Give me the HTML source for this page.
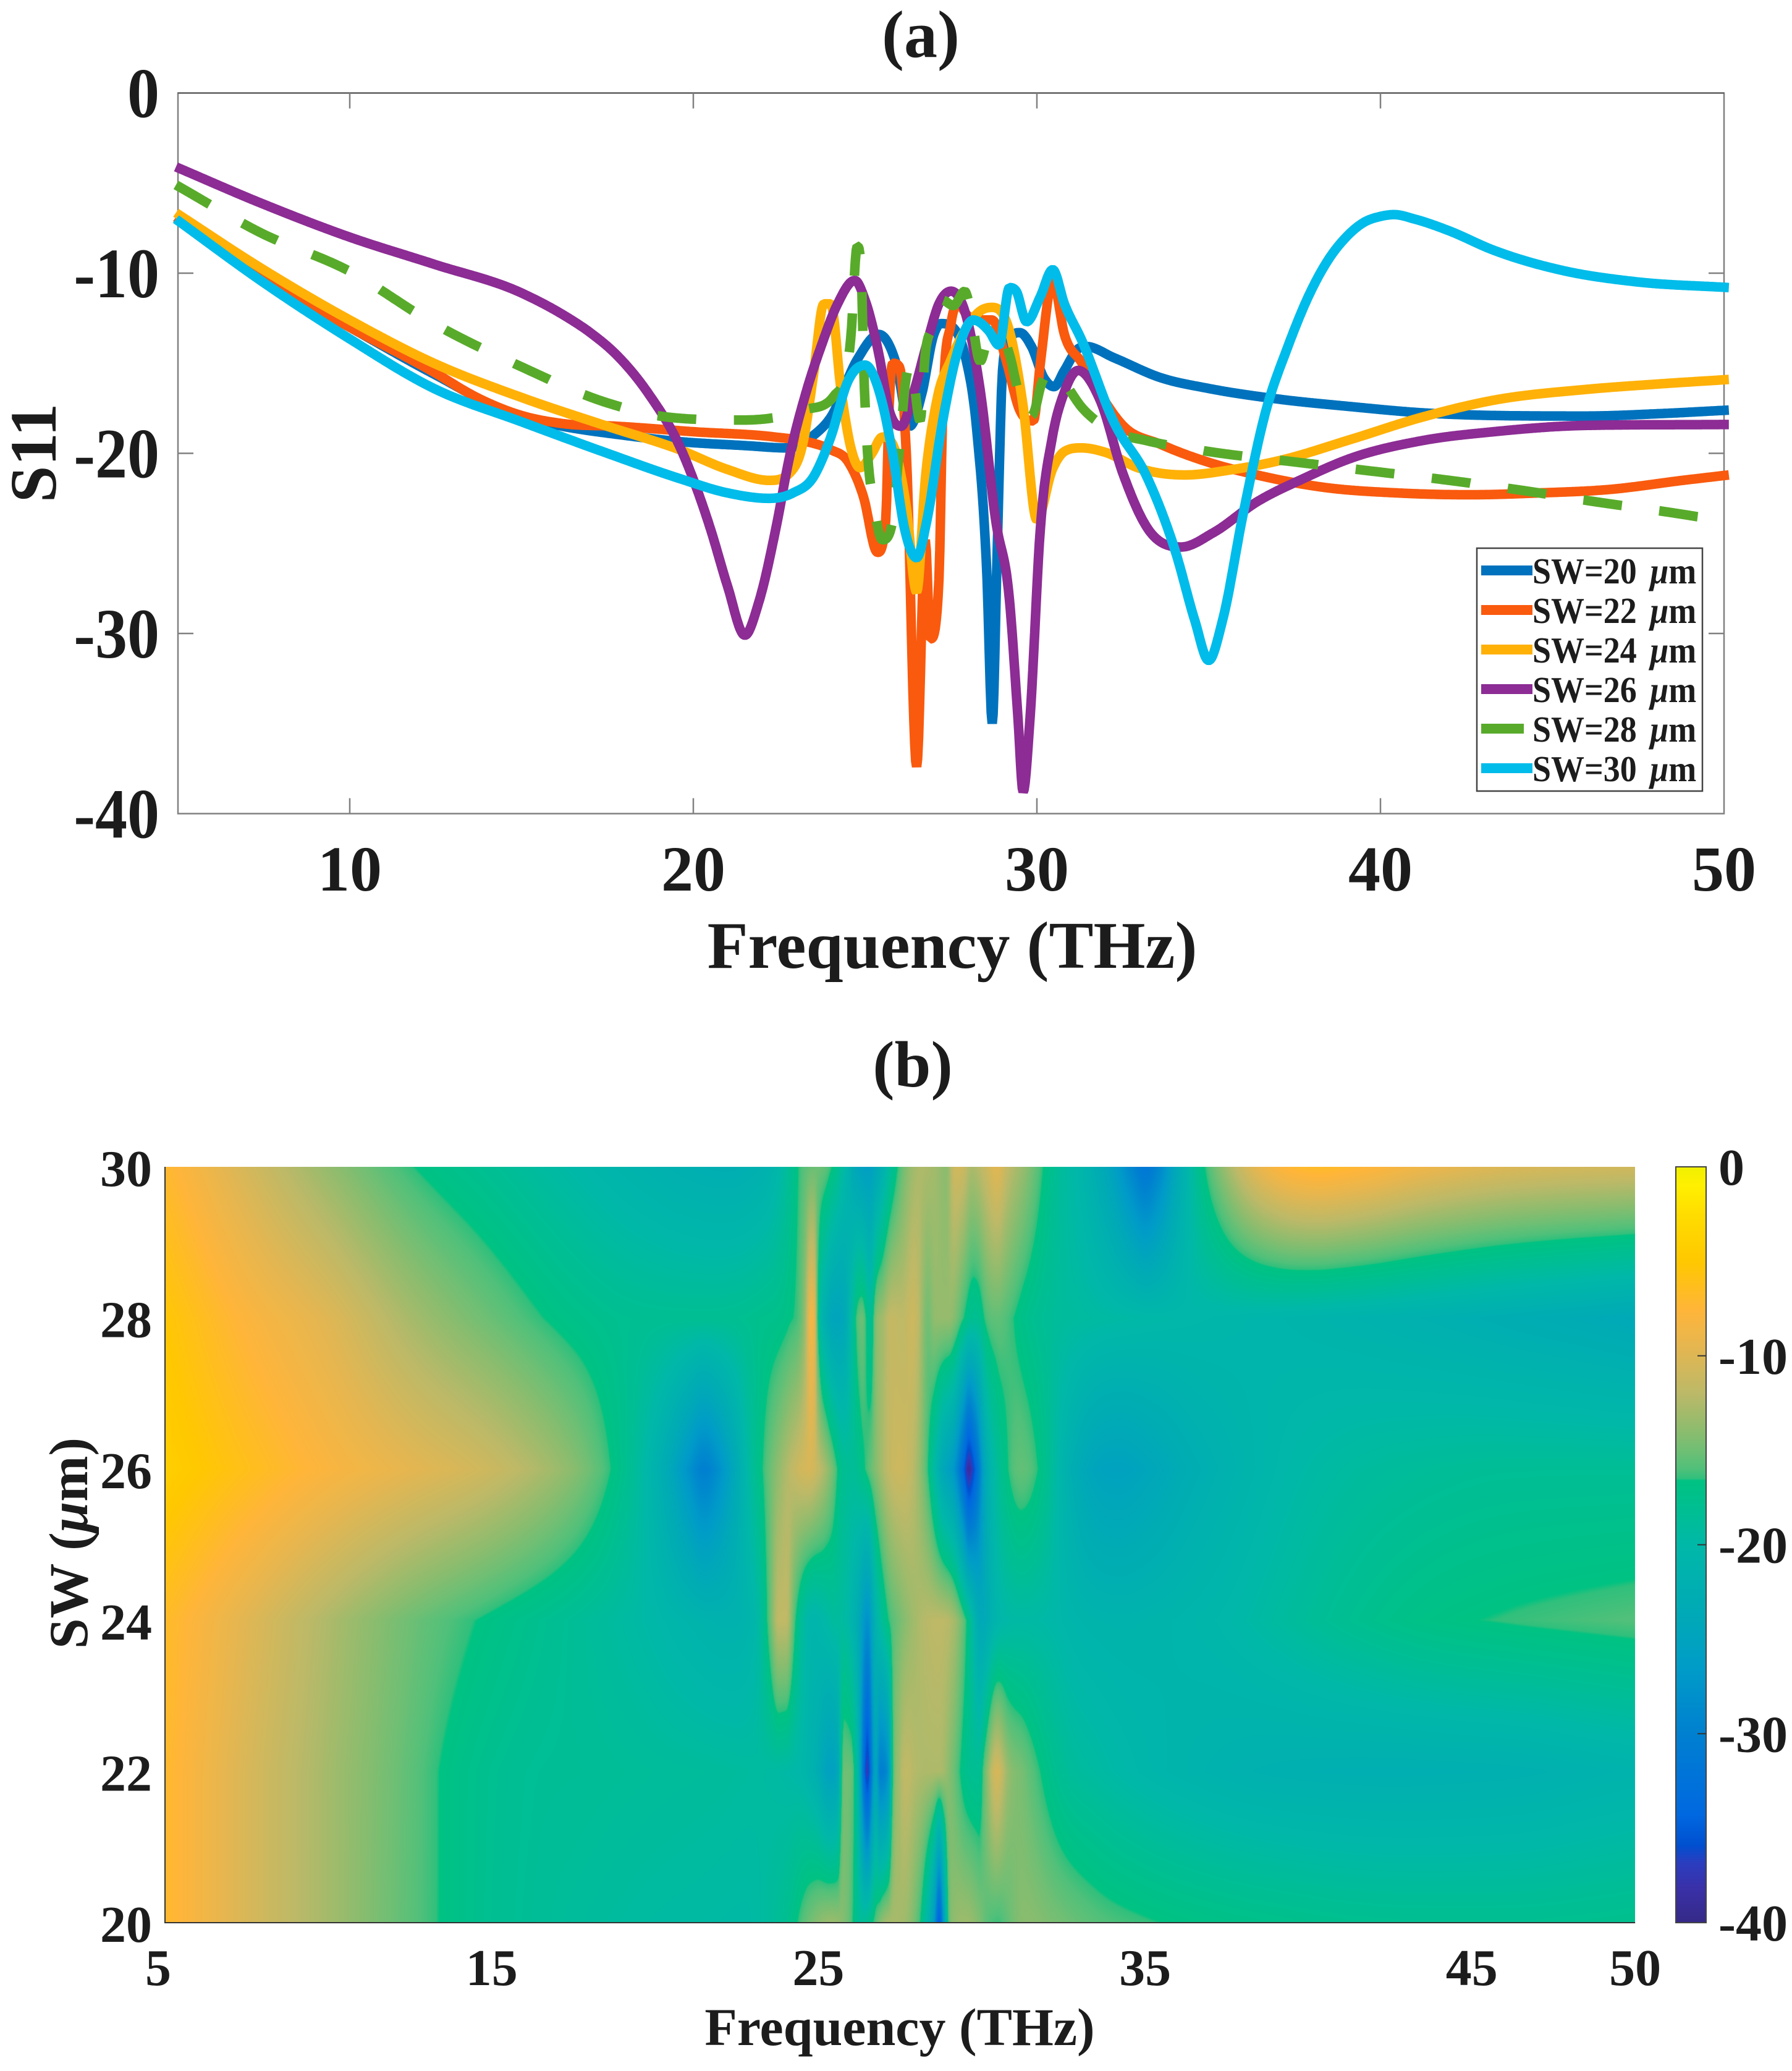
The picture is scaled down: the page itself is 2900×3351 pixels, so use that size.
<!DOCTYPE html>
<html>
<head>
<meta charset="utf-8">
<title>S11 vs Frequency</title>
<style>
html,body{margin:0;padding:0;background:#fff;}
#stage{position:relative;width:2900px;height:3351px;overflow:hidden;background:#fff;}
canvas,svg{position:absolute;left:0;top:0;}
text{font-family:"Liberation Serif","DejaVu Serif",serif;font-weight:bold;fill:#1c1c1c;}
</style>
</head>
<body>
<div id="stage">
  <canvas id="heat" width="2379" height="1223" style="left:267px;top:1888px"></canvas>
  <canvas id="cbar" width="49" height="1223" style="left:2712px;top:1888px"></canvas>
  <svg id="plot" width="2900" height="3351" viewBox="0 0 2900 3351" xmlns="http://www.w3.org/2000/svg">
    <text x="1490" y="92" font-size="108" text-anchor="middle">(a)</text>
    <text x="1477" y="1758" font-size="106" text-anchor="middle">(b)</text>
    <text transform="translate(90,733) rotate(-90)" font-size="107" text-anchor="middle">S11</text>
    <text x="1541" y="1566" font-size="108" text-anchor="middle">Frequency (THz)</text>
    <text x="1456" y="3309" font-size="86" text-anchor="middle">Frequency (THz)</text>
    <text transform="translate(141,2497) rotate(-90)" font-size="89" text-anchor="middle">SW (<tspan font-style="italic">μ</tspan>m)</text>
    <g id="axesA"></g>
    <g id="linesA"></g>
    <g id="axesB"></g>
    <g id="legend"></g>
  </svg>
</div>
<script>
// ---------- Data ----------
const freq20=[4.94,7.4,10,12.45,15,16.2,18,19.6,21.5,22.75,23.5,24,24.77,25.4,25.9,26.3,26.65,27,27.2,27.6,27.9,28.25,28.55,28.7,28.85,29,29.2,29.5,29.85,30.2,30.5,30.8,31.2,31.43,32.25,33.6,35,37.07,39.1,41.2,43.3,46,48.1,50.14];
const s11_20=[-6.9,-10.2,-13,-15.6,-18,-18.5,-19,-19.35,-19.57,-19.7,-19,-18,-14.8,-13.4,-15,-18.5,-16.7,-13.4,-12.8,-13.1,-14.5,-18.7,-27,-35,-25,-15.4,-13.7,-13.3,-14.1,-15.8,-16.3,-15.4,-14.2,-14.07,-14.7,-15.8,-16.4,-17,-17.4,-17.75,-17.9,-17.93,-17.8,-17.6];

const freq22=[4.94,7.4,10,12.45,13.7,15,16.2,17.8,20,22.4,23.3,24,24.5,24.95,25.36,25.6,25.7,25.8,26,26.2,26.5,26.75,26.9,27.15,27.25,27.5,27.7,27.98,28.35,28.7,29.1,29.5,29.9,30.1,30.46,30.8,31.3,31.84,32.5,33.6,35,36.4,38.4,40.5,42.6,44.6,46.7,48.8,50.14];
const s11_22=[-6.9,-10.2,-13,-15.5,-16.9,-17.9,-18.35,-18.5,-18.8,-19.1,-19.35,-19.8,-20.45,-22.4,-25.5,-23.7,-17.4,-15,-15.2,-20,-37.4,-24.8,-30.3,-27,-18.3,-12.8,-11.7,-12.35,-12.6,-12.6,-14.8,-17.6,-18.2,-15,-10.4,-13.4,-14.95,-16.7,-18.45,-19.5,-20.5,-21.2,-21.9,-22.2,-22.3,-22.2,-22,-21.5,-21.2];

const freq24=[4.94,7.4,10,12.45,15,17.5,19.6,21,22.2,22.8,23.2,23.5,23.8,24,24.3,24.6,24.85,25.2,25.5,25.9,26.2,26.5,26.75,27.1,27.5,27.9,28.35,28.7,29.2,29.6,30,30.45,30.8,31.3,32,32.94,34.3,35.7,37.07,39.1,41.2,43.3,46,48.1,50.14];
const s11_24=[-6.65,-9.7,-12.6,-15,-16.9,-18.5,-19.8,-20.9,-21.5,-21.1,-19.35,-15.6,-11.7,-11.7,-16.5,-19.8,-20.8,-20,-19.1,-20,-23,-27.7,-21.5,-16.95,-14.8,-13.2,-12.1,-11.9,-13.2,-17.4,-23.7,-20.9,-19.9,-19.7,-19.95,-20.8,-21.2,-20.9,-20.4,-19.25,-18,-17.05,-16.45,-16.15,-15.9];

const freq26=[4.94,7.4,10,12.45,15,16.2,17,17.8,18.7,19.6,20.5,21,21.5,21.9,22.4,22.8,23.3,23.75,24.2,24.7,25,25.4,25.7,26.05,26.4,26.8,27.15,27.5,27.9,28.35,28.8,29.2,29.45,29.6,29.8,30.1,30.45,30.8,31.2,31.84,32.5,33.2,34.2,35.14,36.4,37.76,39.1,41.2,43.3,46,50.14];
const s11_26=[-4.1,-6.1,-8,-9.5,-11.1,-12.3,-13.3,-14.6,-16.7,-19.6,-24.2,-27.4,-30.1,-28.3,-24.2,-20.2,-16.5,-13.9,-11.7,-10.4,-11.5,-14.5,-17.6,-18.5,-16.7,-13.9,-11.7,-11,-12.1,-16.5,-23.7,-28.1,-34.7,-38.8,-34.7,-24.2,-19.1,-16.6,-15.4,-17.05,-21.1,-24.1,-25.2,-24.4,-22.7,-21.4,-20.3,-19.3,-18.8,-18.45,-18.4];

const freq28=[4.94,7.4,10,12.45,15,17.5,19.3,21.5,23.2,24.1,24.58,24.77,24.9,24.95,25.04,25.27,25.5,25.78,26,26.2,26.33,26.6,26.75,26.97,27.25,27.57,27.9,28.03,28.35,28.58,29,29.2,29.45,29.77,29.9,30.14,30.5,30.7,31.33,32.25,33.2,35,37.6,39.8,42,44.1,46.3,48.5,50.14];
const s11_28=[-5.1,-7.75,-9.9,-12.8,-15.2,-17.2,-18,-18.15,-17.6,-16.8,-13.66,-8.5,-10.5,-14.65,-18.9,-22.96,-24.8,-23.95,-19.7,-15.75,-15.1,-18.2,-14.5,-13,-11.5,-11.8,-11,-11.7,-14.9,-13.7,-13.55,-14.5,-16.5,-18,-17.8,-16.1,-15.5,-15.85,-17.5,-18.8,-19.3,-19.9,-20.5,-21,-21.5,-22.05,-22.7,-23.3,-23.8];

const freq30=[4.94,7.4,10,12.45,15,17.5,19.6,21,22.2,22.9,23.5,24,24.5,25,25.4,25.8,26.15,26.5,26.8,27.25,27.7,28.15,28.6,28.9,29.2,29.4,29.7,30.1,30.46,30.8,31.3,32.25,33.2,34.04,34.6,35,35.4,36,36.65,37.3,38,38.5,39,39.5,40,40.4,41,42,43.26,45.3,47.4,50.14];
const s11_30=[-7,-10.4,-13.65,-16.4,-18.25,-20,-21.4,-22.2,-22.5,-22.2,-21.3,-19.1,-16,-15.1,-16.5,-20,-24.2,-25.8,-23.7,-18.3,-14.3,-12.6,-13.2,-14,-10.8,-11,-12.7,-11.3,-9.8,-11.7,-13.7,-18.3,-21.3,-25.5,-29.3,-31.5,-29.3,-23.4,-17.75,-14.1,-10.9,-9.2,-8,-7.2,-6.85,-6.75,-7,-7.65,-8.7,-9.85,-10.47,-10.8];

const swValues=[20,22,24,26,28,30];
const seriesFreqs=[freq20,freq22,freq24,freq26,freq28,freq30];
const seriesS11=[s11_20,s11_22,s11_24,s11_26,s11_28,s11_30];
const seriesColors=["#0072bd","#f95a0e","#ffb108","#8c2c94","#58ab2a","#00bcea"];

const aXTicks=[10,20,30,40,50];
const aYTicks=[0,-10,-20,-30,-40];
const bXTicks=[5,15,25,35,45,50];
const bYTicks=[20,22,24,26,28,30];
const cbarTicks=[0,-10,-20,-30,-40];

const colormapValues=[-40,-38.2,-36.8,-35.9,-34.3,-30,-26.5,-24,-20,-19,-16.6,-16.5,-16,-15,-14,-12,-9.5,-7.6,-5,-2.5,-1,0];
const colormapColors=["#352a87","#3a30a8","#2a3ec0","#0050d0","#0068e0","#0080d0","#009cc8","#00a8b8","#00b8a8","#00bc9c","#00c282","#30c07c","#50c07a","#70bf74","#8cbc6e","#bcb968","#e6b650","#ffb53a","#ffc800","#ffdd00","#fff000","#f0f000"];

// ---------- Axis functions ----------
function xA(f){return 288+(f-5)*55.6;}
function yA(v){return 150.5-v*29.15;}
function xB(f){return 267+(f-5)*52.87;}
function yB(sw){return 3111-(sw-20)*122.3;}
function yC(v){return 1888-v*30.575;}

const SVGNS="http://www.w3.org/2000/svg";
function mk(tag,parent,attrs){
  const el=document.createElementNS(SVGNS,tag);
  for(const k in attrs){el.setAttribute(k,attrs[k]);}
  parent.appendChild(el);
  return el;
}

// Smooth, shape-preserving cubic through the read points
function buildSpline(xs,ys){
  const n=xs.length,d=[],m=new Array(n);
  for(let i=0;i<n-1;i++){d.push((ys[i+1]-ys[i])/(xs[i+1]-xs[i]));}
  m[0]=d[0];m[n-1]=d[n-2];
  for(let i=1;i<n-1;i++){
    if(d[i-1]*d[i]<=0){m[i]=0;}
    else{
      const h0=xs[i]-xs[i-1],h1=xs[i+1]-xs[i];
      const avg=(h1*d[i-1]+h0*d[i])/(h0+h1);
      const lim=3*Math.min(Math.abs(d[i-1]),Math.abs(d[i]));
      m[i]=Math.sign(avg)*Math.min(Math.abs(avg),lim);
    }
  }
  return function(x){
    if(x<=xs[0])return ys[0];
    if(x>=xs[n-1])return ys[n-1];
    let lo=0,hi=n-1;
    while(hi-lo>1){const mid=(lo+hi)>>1;if(xs[mid]<=x)lo=mid;else hi=mid;}
    const h=xs[hi]-xs[lo],t=(x-xs[lo])/h,t2=t*t,t3=t2*t;
    return (2*t3-3*t2+1)*ys[lo]+(t3-2*t2+t)*h*m[lo]+(-2*t3+3*t2)*ys[hi]+(t3-t2)*h*m[hi];
  };
}
const splines=seriesFreqs.map(function(fs,i){return buildSpline(fs,seriesS11[i]);});

// ---------- Colormap ----------
function hexToRgb(h){return [parseInt(h.substr(1,2),16),parseInt(h.substr(3,2),16),parseInt(h.substr(5,2),16)];}
const cmRgb=colormapColors.map(hexToRgb);
function colorOf(v){
  if(v<=colormapValues[0])return cmRgb[0];
  const n=colormapValues.length;
  if(v>=colormapValues[n-1])return cmRgb[n-1];
  let i=0;
  while(i<n-2&&v>colormapValues[i+1])i++;
  const t=(v-colormapValues[i])/(colormapValues[i+1]-colormapValues[i]);
  const a=cmRgb[i],b=cmRgb[i+1];
  return [a[0]+(b[0]-a[0])*t,a[1]+(b[1]-a[1])*t,a[2]+(b[2]-a[2])*t];
}

// ---------- Panel (a) axes ----------
const axesA=document.getElementById('axesA');
const frameA=mk('rect',axesA,{x:xA(5),y:yA(0),width:xA(50)-xA(5),height:yA(-40)-yA(0),fill:'none',stroke:'#808080','stroke-width':2.5});


const topEdge=mk('line',axesA,{x1:xA(5),x2:xA(50),y1:yA(0),y2:yA(0),stroke:'#555','stroke-width':2});



aXTicks.forEach(function(t){
  const g=mk('g',axesA,{});
  
  
  if(t<50){
    mk('line',g,{x1:xA(t),x2:xA(t),y1:yA(-40),y2:yA(-40)-25,stroke:'#808080','stroke-width':2.5});
    mk('line',g,{x1:xA(t),x2:xA(t),y1:yA(0),y2:yA(0)+25,stroke:'#808080','stroke-width':2.5});
  }
  const tx=mk('text',g,{x:xA(t),y:1441,'font-size':104,'text-anchor':'middle'});
  tx.textContent=String(t);
});
aYTicks.forEach(function(t){
  const g=mk('g',axesA,{});
  
  
  if(t>-40&&t<0){
    mk('line',g,{x1:xA(5),x2:xA(5)+25,y1:yA(t),y2:yA(t),stroke:'#808080','stroke-width':2.5});
    mk('line',g,{x1:xA(50),x2:xA(50)-25,y1:yA(t),y2:yA(t),stroke:'#808080','stroke-width':2.5});
  }
  const tx=mk('text',g,{transform:'translate(258,'+(yA(t)+39)+') scale(1,1.1)','font-size':104,'text-anchor':'end'});
  tx.textContent=String(t);
});

// ---------- Panel (a) lines ----------
const linesA=document.getElementById('linesA');
swValues.forEach(function(sw,i){
  const fs=seriesFreqs[i],sp=splines[i];
  let d='';
  for(let k=0;k<fs.length-1;k++){
    const steps=Math.max(1,Math.ceil((fs[k+1]-fs[k])/0.03));
    for(let s=0;s<steps;s++){
      const f=fs[k]+(fs[k+1]-fs[k])*s/steps;
      d+=(d?'L':'M')+xA(f).toFixed(1)+' '+yA(sp(f)).toFixed(1);
    }
  }
  d+='L'+xA(fs[fs.length-1]).toFixed(1)+' '+yA(seriesS11[i][fs.length-1]).toFixed(1);
  const attrs={d:d,fill:'none',stroke:seriesColors[i],'stroke-width':15.5,'stroke-linejoin':'bevel','stroke-linecap':'butt'};
  if(sw===28){attrs['stroke-dasharray']='63 61';}
  const p=mk('path',linesA,attrs);
  
  
});

// ---------- Legend ----------
const legend=document.getElementById('legend');
const lbox=mk('rect',legend,{x:2390,y:887,width:365,height:393,fill:'#fff',stroke:'#444','stroke-width':2.5});


swValues.forEach(function(sw,i){
  const g=mk('g',legend,{});
  
  
  const yy=923+i*64;
  mk('line',g,{x1:2397,x2:sw===28?2466:2480,y1:yy,y2:yy,stroke:seriesColors[i],'stroke-width':16});
  const tx=mk('text',g,{transform:'translate(2480,'+(yy+21)+') scale(1,1.1)','font-size':54,'xml:space':'preserve'});
  tx.appendChild(document.createTextNode('SW='+sw+' '));
  const mu=mk('tspan',tx,{'font-style':'italic',dx:'8'});
  mu.textContent='μ';
  tx.appendChild(document.createTextNode('m'));
});

// ---------- Panel (b) heatmap ----------
(function(){
  const cv=document.getElementById('heat'),ctx=cv.getContext('2d');
  const W=cv.width,H=cv.height,img=ctx.createImageData(W,H),data=img.data;
  const left=xB(5),bottom=yB(20);
  for(let c=0;c<W;c++){
    const f=5+((c+0.5+267-left)/52.87);
    const col=splines.map(function(sp){return sp(f);});
    for(let r=0;r<H;r++){
      const sw=20+(bottom-(1888+r+0.5))/122.3;
      let pos=(sw-swValues[0])/2;
      if(pos<0)pos=0;
      if(pos>swValues.length-1)pos=swValues.length-1;
      const j=Math.min(Math.floor(pos),swValues.length-2),t=pos-j;
      const v=col[j]*(1-t)+col[j+1]*t;
      const rgb=colorOf(v),o=(r*W+c)*4;
      data[o]=rgb[0];data[o+1]=rgb[1];data[o+2]=rgb[2];data[o+3]=255;
    }
  }
  ctx.putImageData(img,0,0);
  const cb=document.getElementById('cbar'),cc=cb.getContext('2d');
  for(let r=0;r<cb.height;r++){
    const v=-(r+0.5)/30.575,rgb=colorOf(v);
    cc.fillStyle='rgb('+Math.round(rgb[0])+','+Math.round(rgb[1])+','+Math.round(rgb[2])+')';
    cc.fillRect(0,r,cb.width,1);
  }
})();

// ---------- Panel (b) axes ----------
const axesB=document.getElementById('axesB');
const leftEdge=mk('line',axesB,{x1:xB(5),x2:xB(5),y1:yB(30),y2:yB(20)+1,stroke:'#333','stroke-width':2});


const bottomEdge=mk('line',axesB,{x1:xB(5),x2:xB(50),y1:yB(20),y2:yB(20),stroke:'#333','stroke-width':2});


bXTicks.forEach(function(t){
  const tx=mk('text',axesB,{x:xB(t)-(t===5?11:0),y:3212,'font-size':84,'text-anchor':'middle'});
  
  
  tx.textContent=String(t);
});
bYTicks.forEach(function(t){
  const tx=mk('text',axesB,{x:246,y:yB(t)+31,'font-size':84,'text-anchor':'end'});
  
  
  tx.textContent=String(t);
});
const cbFrame=mk('rect',axesB,{x:2712,y:1888,width:49,height:1223,fill:'none',stroke:'#444','stroke-width':2});


cbarTicks.forEach(function(t){
  const g=mk('g',axesB,{});
  
  
  if(t<0&&t>-40){mk('line',g,{x1:2747,x2:2761,y1:yC(t),y2:yC(t),stroke:'#333','stroke-width':2});}
  const tx=mk('text',g,{x:2781,y:yC(t)+29,'font-size':84});
  tx.textContent=String(t);
});
</script>
</body>
</html>
